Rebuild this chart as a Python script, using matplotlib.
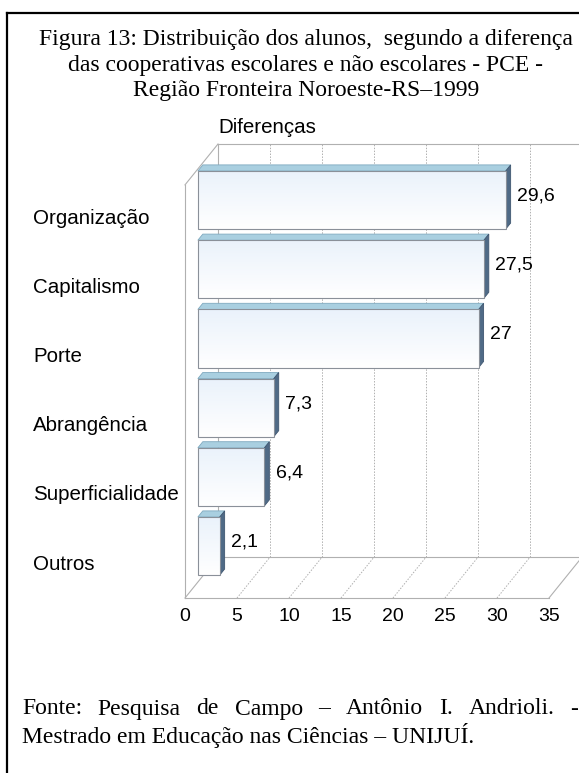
import numpy as np
import matplotlib.pyplot as plt
from matplotlib.patches import Polygon, Rectangle
from matplotlib.colors import LinearSegmentedColormap


CATEGORIES = ["Outros", "Superficialidade", "Abrangência", "Porte",
              "Capitalismo", "Organização"]
VALUES = [2.1, 6.4, 7.3, 27.0, 27.5, 29.6]
VALUE_LABELS = ["2,1", "6,4", "7,3", "27", "27,5", "29,6"]
X_TICKS = [0, 5, 10, 15, 20, 25, 30, 35]

TITLE = ("Figura 13: Distribuição dos alunos,  segundo a diferença\n"
         "das cooperativas escolares e não escolares - PCE -\n"
         "Região Fronteira Noroeste-RS–1999")
AXIS_TITLE = "Diferenças"
SOURCE_LINE1 = ["Fonte:", "Pesquisa", "de", "Campo", "–", "Antônio", "I.",
                "Andrioli.", "-"]
SOURCE_LINE2 = "Mestrado em Educação nas Ciências – UNIJUÍ."

# oblique projection of the 3d box (depth goes up and right)
OX = 3.17
OY = 0.59
WALL_H = 5.97
X_MAX = 35
BAR_D0, BAR_D1 = 0.39, 0.54
BAR_H0, BAR_H1 = 0.10, 0.94

W, H = 579, 773
PX_X0, PX_PER_X = 185, 10.4
PX_Y0, PX_PER_Y = 598, 69.2

GRID = "#b0b0b0"
EDGE = "#8a9099"
TOP_FACE = "#a9cfe0"
SIDE_FACE = "#4f6a86"
SANS = "Liberation Sans"
SERIF = "Liberation Serif"
LABEL_SIZE = 14.8
NUM_SIZE = 14
SERIF_SIZE = 17


def proj(v, h, d):
    return (v + d * OX, h + d * OY)


def draw_bar(ax, i, value):
    h0, h1 = i + BAR_H0, i + BAR_H1
    top = [proj(0, h1, BAR_D0), proj(value, h1, BAR_D0),
           proj(value, h1, BAR_D1), proj(0, h1, BAR_D1)]
    side = [proj(value, h0, BAR_D0), proj(value, h0, BAR_D1),
            proj(value, h1, BAR_D1), proj(value, h1, BAR_D0)]

    ax.add_patch(Polygon(top, closed=True, facecolor=TOP_FACE,
                         edgecolor="#7fa9bf", lw=0.6, zorder=3))
    ax.add_patch(Polygon(side, closed=True, facecolor=SIDE_FACE,
                         edgecolor="#3f5670", lw=0.6, zorder=3))

    # front face with a soft vertical gradient
    fx0, fy0 = proj(0, h0, BAR_D0)
    fx1, fy1 = proj(value, h1, BAR_D0)
    cmap = LinearSegmentedColormap.from_list("bar", ["#ffffff", "#eaf2fb"])
    grad = np.linspace(0, 1, 64).reshape(-1, 1)
    im = ax.imshow(grad, cmap=cmap, aspect="auto", origin="lower",
                   extent=(fx0, fx1, fy0, fy1), zorder=3)
    rect = Rectangle((fx0, fy0), fx1 - fx0, fy1 - fy0, facecolor="none",
                     edgecolor=EDGE, lw=0.8, zorder=4)
    ax.add_patch(rect)
    im.set_clip_path(rect)


def justified_line(fig, words, x0, x1, y):
    renderer = fig.canvas.get_renderer()
    texts = [fig.text(0, 1 - y / H, w, ha="left", va="center",
                      fontsize=SERIF_SIZE, family=SERIF) for w in words]
    widths = [t.get_window_extent(renderer).width for t in texts]
    gap = (x1 - x0 - sum(widths)) / (len(words) - 1)
    pos = x0
    for t, wd in zip(texts, widths):
        t.set_x(pos / W)
        pos += wd + gap


def main():
    fig = plt.figure(figsize=(W / 100, H / 100), dpi=100)
    ax = fig.add_axes([0, 0, 1, 1])
    ax.set_xlim(-PX_X0 / PX_PER_X, (W - PX_X0) / PX_PER_X)
    ax.set_ylim((PX_Y0 - H) / PX_PER_Y, PX_Y0 / PX_PER_Y)
    ax.axis("off")

    # outer frame of the figure
    fig.add_artist(plt.Line2D([7 / W, 7 / W], [0, 1 - 13 / H],
                              transform=fig.transFigure, color="black", lw=1.6))
    fig.add_artist(plt.Line2D([7 / W, 1], [1 - 13 / H, 1 - 13 / H],
                              transform=fig.transFigure, color="black", lw=1.6))

    # walls and floor outline
    solid = dict(color=GRID, lw=0.8, zorder=1)
    outline = [
        [proj(0, 0, 0), proj(0, WALL_H, 0)],
        [proj(0, WALL_H, 0), proj(0, WALL_H, 1)],
        [proj(0, 0, 1), proj(0, WALL_H, 1)],
        [proj(0, WALL_H, 1), proj(X_MAX, WALL_H, 1)],
        [proj(0, 0, 0), proj(X_MAX, 0, 0)],
        [proj(0, 0, 1), proj(X_MAX, 0, 1)],
        [proj(0, 0, 0), proj(0, 0, 1)],
        [proj(X_MAX, 0, 0), proj(X_MAX, 0, 1)],
    ]
    for (xa, ya), (xb, yb) in outline:
        ax.plot([xa, xb], [ya, yb], **solid)

    dotted = dict(color=GRID, lw=0.7, ls=(0, (1.5, 1.5)), zorder=1)
    for t in X_TICKS[1:-1]:
        (xa, ya), (xb, yb) = proj(t, 0, 1), proj(t, WALL_H, 1)
        ax.plot([xa, xb], [ya, yb], **dotted)
    for t in X_TICKS[1:-1]:
        (xa, ya), (xb, yb) = proj(t, 0, 0), proj(t, 0, 1)
        ax.plot([xa, xb], [ya, yb], **dotted)

    for t in X_TICKS:
        ax.text(t, -0.27, str(t), ha="center", va="center",
                fontsize=NUM_SIZE, family=SANS)

    for i, (cat, val, lab) in enumerate(zip(CATEGORIES, VALUES, VALUE_LABELS)):
        draw_bar(ax, i, val)
        ax.text(33 / W, i + 0.49, cat, transform=ax.get_yaxis_transform(),
                ha="left", va="center", fontsize=LABEL_SIZE, family=SANS)
        lx, _ = proj(val, 0, BAR_D1)
        ax.text(lx + 0.6, i + 0.81, lab, ha="left", va="center",
                fontsize=NUM_SIZE, family=SANS)

    hx, hy = proj(0, WALL_H, 1)
    ax.text(hx, hy + 0.24, AXIS_TITLE, ha="left", va="center",
            fontsize=LABEL_SIZE, family=SANS)

    fig.text(306 / W, 1 - 65 / H, TITLE, ha="center", va="center",
             fontsize=SERIF_SIZE, family=SERIF, linespacing=1.3)

    justified_line(fig, SOURCE_LINE1, 22, 578, 709)
    fig.text(22 / W, 1 - 735 / H, SOURCE_LINE2, ha="left", va="center",
             fontsize=SERIF_SIZE, family=SERIF)

    fig.savefig("out.png", dpi=100)


if __name__ == "__main__":
    main()
